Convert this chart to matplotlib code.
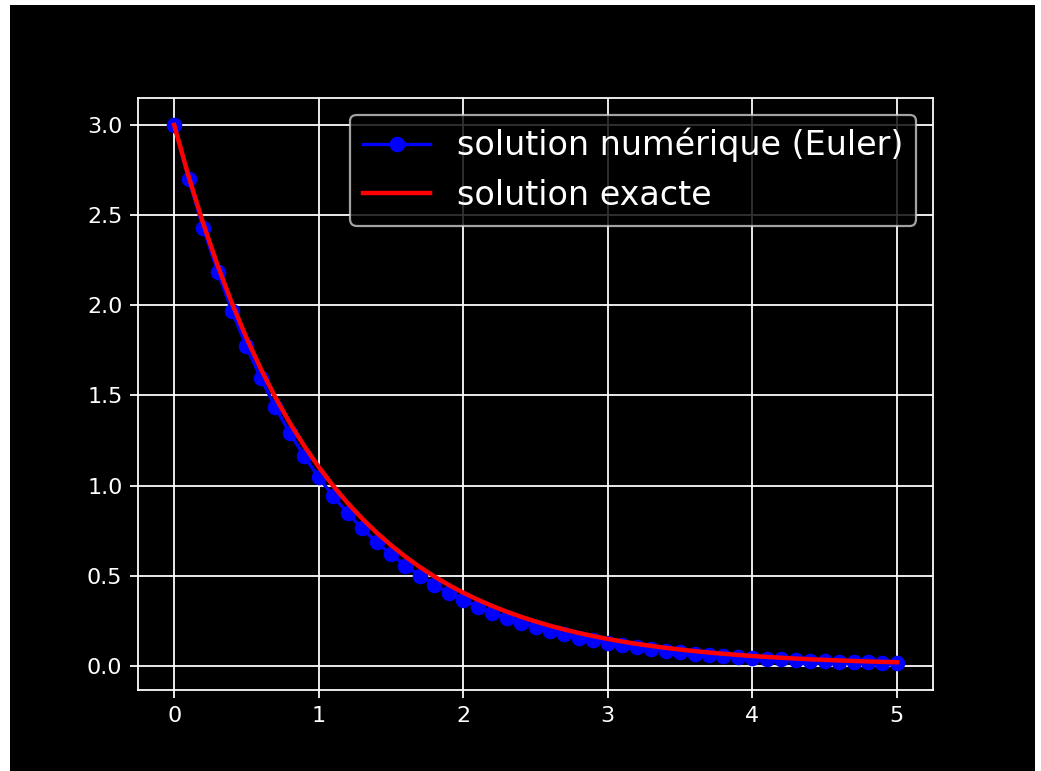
import matplotlib
matplotlib.use("Agg")
import matplotlib.pyplot as plt
from matplotlib.patches import Rectangle

t = [0.0, 0.1, 0.2, 0.3, 0.4, 0.5, 0.6, 0.7, 0.8, 0.9,
     1.0, 1.1, 1.2, 1.3, 1.4, 1.5, 1.6, 1.7, 1.8, 1.9,
     2.0, 2.1, 2.2, 2.3, 2.4, 2.5, 2.6, 2.7, 2.8, 2.9,
     3.0, 3.1, 3.2, 3.3, 3.4, 3.5, 3.6, 3.7, 3.8, 3.9,
     4.0, 4.1, 4.2, 4.3, 4.4, 4.5, 4.6, 4.7, 4.8, 4.9, 5.0]

y_euler = [3.0, 2.7, 2.43, 2.187, 1.9683, 1.7715, 1.5943, 1.4349, 1.2914, 1.1623,
           1.0460, 0.9414, 0.8473, 0.7626, 0.6863, 0.6177, 0.5559, 0.5003, 0.4503, 0.4053,
           0.3647, 0.3283, 0.2954, 0.2659, 0.2393, 0.2154, 0.1938, 0.1744, 0.1570, 0.1413,
           0.1272, 0.1145, 0.1030, 0.0927, 0.0834, 0.0751, 0.0676, 0.0608, 0.0547, 0.0493,
           0.0443, 0.0399, 0.0359, 0.0323, 0.0291, 0.0262, 0.0236, 0.0212, 0.0191, 0.0172, 0.0155]

y_exact = [3.0, 2.7145, 2.4562, 2.2225, 2.0110, 1.8196, 1.6464, 1.4898, 1.3480, 1.2197,
           1.1036, 0.9986, 0.9036, 0.8176, 0.7398, 0.6694, 0.6057, 0.5481, 0.4959, 0.4487,
           0.4060, 0.3674, 0.3324, 0.3008, 0.2722, 0.2463, 0.2228, 0.2016, 0.1824, 0.1651,
           0.1494, 0.1351, 0.1223, 0.1107, 0.1001, 0.0906, 0.0820, 0.0742, 0.0671, 0.0607,
           0.0549, 0.0497, 0.0450, 0.0407, 0.0368, 0.0333, 0.0302, 0.0273, 0.0247, 0.0223, 0.0202]

labels = ["solution numérique (Euler)", "solution exacte"]

plt.style.use("dark_background")
W, H = 1041, 771
fig = plt.figure(figsize=(W / 160, H / 160), dpi=160, facecolor="white")
bg = Rectangle((10 / W, -0.02), 1025 / W, 766 / H + 0.02, transform=fig.transFigure,
               facecolor="black", edgecolor="none", zorder=-10)
fig.add_artist(bg)

ax = fig.add_axes([138 / W, (H - 690) / H, (933 - 138) / W, (690 - 98) / H])
ax.set_zorder(1)
ax.set_facecolor("black")
ax.plot(t, y_euler, "bo-", label=labels[0])
ax.plot(t, y_exact, "r-", linewidth=2, label=labels[1])
ax.grid(True)
ax.legend(loc="upper right", fontsize=15)

fig.savefig("out.png", dpi=160, facecolor="white")
